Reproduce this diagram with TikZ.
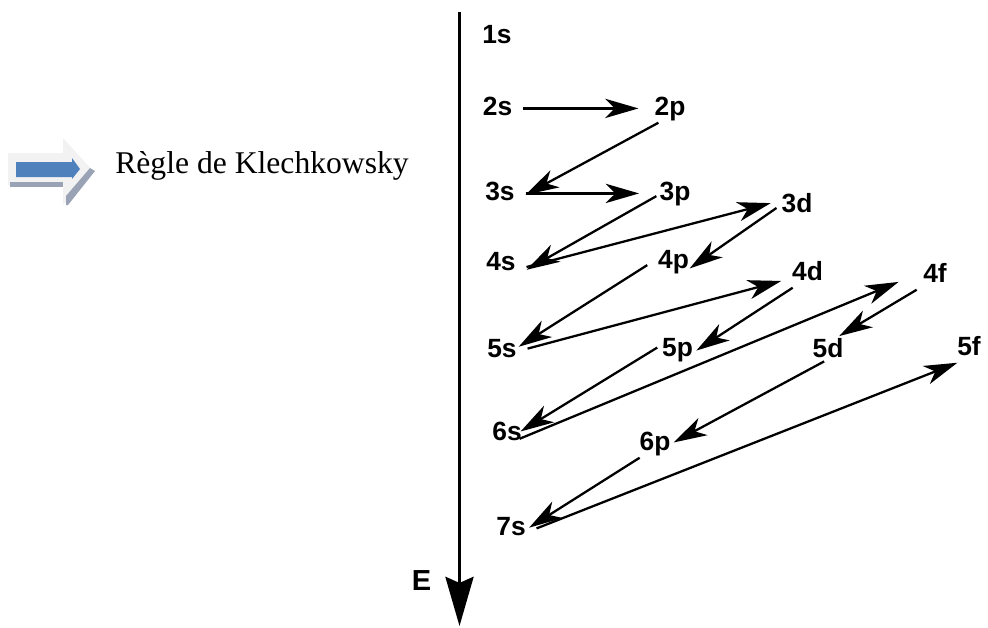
\documentclass[tikz,border=0pt]{standalone}
\usepackage{fontspec}
\setmainfont{Liberation Serif}
\setsansfont{Liberation Sans}
\usetikzlibrary{arrows.meta}
\definecolor{iconblue}{HTML}{4F81BD}
\definecolor{iconshade}{HTML}{9AA3B5}
\definecolor{iconpale}{HTML}{F2F2F2}

\begin{document}
\begin{tikzpicture}[
    x=0.02cm, y=-0.02cm,
    orb/.style={font=\sffamily\bfseries\fontsize{15}{18}\selectfont, anchor=base, inner xsep=6pt, inner ysep=1pt, text height=10.7pt, text depth=3.2pt},
    arr/.style={-{Stealth[length=19pt, width=11pt, inset=5.5pt]}, line width=1.3pt},
    axis/.style={-{Stealth[length=28pt, width=16pt, inset=3.5pt]}, line width=1.7pt}
  ]
    \useasboundingbox (0,0) rectangle (988,627);

    % icon and title
    \fill[iconpale] (8,153) -- (63,153) -- (63,138) -- (94,172) -- (63,205) -- (63,185) -- (8,185) -- cycle;
    \fill[iconshade] (10,182) rectangle (63,187);
    \fill[iconshade] (66,196) -- (90,168) -- (95,171) -- (68,205) -- (66,205) -- cycle;
    \fill[iconblue] (16,162) -- (72,162) -- (72,158) -- (80,169) -- (72,179) -- (72,177) -- (16,177) -- cycle;
    \node[font=\fontsize{18}{22}\selectfont, anchor=base west, inner sep=0pt] (rule) at (115,173) {Règle de Klechkowsky};

    % energy axis
    \coordinate (top) at (459.5,12);
    \coordinate (bot) at (459.5,626);
    \draw[axis] (top) -- (bot);
    \node[font=\sffamily\bfseries\fontsize{16.5}{19}\selectfont, anchor=base] (energy) at (421.5,590) {E};

    % sub-levels
    \node[orb] (s1) at (497,43) {1s};
    \node[orb] (s2) at (497.5,115) {2s};
    \node[orb] (p2) at (670,115) {2p};
    \node[orb] (s3) at (500,200) {3s};
    \node[orb] (p3) at (675,200) {3p};
    \node[orb] (d3) at (797,212) {3d};
    \node[orb] (s4) at (501,270) {4s};
    \node[orb] (p4) at (673.5,268) {4p};
    \node[orb] (d4) at (807.5,280) {4d};
    \node[orb] (f4) at (935,282) {4f};
    \node[orb] (s5) at (502,357) {5s};
    \node[orb] (p5) at (677.5,356) {5p};
    \node[orb] (d5) at (828,357) {5d};
    \node[orb] (f5) at (969,355) {5f};
    \node[orb] (s6) at (507,440) {6s};
    \node[orb] (p6) at (655,450) {6p};
    \node[orb] (s7) at (511,535) {7s};

    % filling order
    \draw[arr, shorten >=3pt] (s2.east) -- (p2.west);
    \draw[arr] (p2.-129) -- (s3.-3);
    \draw[arr, shorten >=5.5pt] (s3.east) -- (p3.west);
    \draw[arr, shorten <=-5pt] (p3.-165) -- (s4.-14);
    \draw[arr] (s4.-8) -- (d3.175);
    \draw[arr, shorten <=-4pt, shorten >=-7pt] (d3.-166) -- (p4.east);
    \draw[arr, shorten >=-6pt] (p4.-172) -- (s5.20);
    \draw[arr] (s5.4) -- (d4.-164);
    \draw[arr, shorten >=-5pt] (d4.-136) -- (p5.8);
    \draw[arr, shorten <=-4pt, shorten >=-8pt] (p5.-176) -- (s6.20);
    \draw[arr, shorten <=-8pt, shorten >=8.5pt] (s6.east) -- (f4.-178);
    \draw[arr] (f4.-142) -- (d5.52);
    \draw[arr, shorten <=-4pt, shorten >=-5pt] (d5.-125) -- (p6.11);
    \draw[arr, shorten >=-5pt] (p6.-137) -- (s7.12);
    \draw[arr] (s7.east) -- (f5.-129);
\end{tikzpicture}
\end{document}
